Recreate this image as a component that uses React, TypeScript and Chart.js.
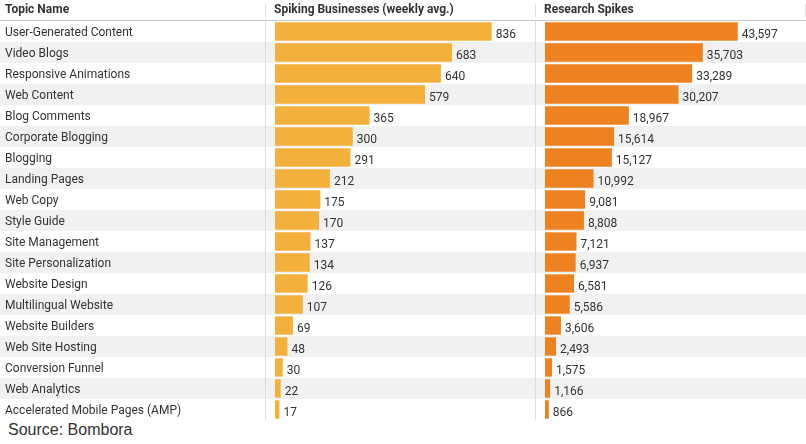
import React, { useEffect, useRef } from "react";
import { Chart, registerables } from "chart.js";

Chart.register(...registerables);

const topics = [
  "User-Generated Content",
  "Video Blogs",
  "Responsive Animations",
  "Web Content",
  "Blog Comments",
  "Corporate Blogging",
  "Blogging",
  "Landing Pages",
  "Web Copy",
  "Style Guide",
  "Site Management",
  "Site Personalization",
  "Website Design",
  "Multilingual Website",
  "Website Builders",
  "Web Site Hosting",
  "Conversion Funnel",
  "Web Analytics",
  "Accelerated Mobile Pages (AMP)",
];

const spikingBusinesses = [836, 683, 640, 579, 365, 300, 291, 212, 175, 170, 137, 134, 126, 107, 69, 48, 30, 22, 17];
const researchSpikes = [43597, 35703, 33289, 30207, 18967, 15614, 15127, 10992, 9081, 8808, 7121, 6937, 6581, 5586, 3606, 2493, 1575, 1166, 866];

const headers = ["Topic Name", "Spiking Businesses (weekly avg.)", "Research Spikes"];
const sourceText = "Source: Bombora";

const FONT = "Roboto, 'Noto Sans', sans-serif";
const TEXT = "#333333";
const STRIPE = "#f0f1f0";

const stripePlugin = {
  id: "stripes",
  beforeDraw(chart: any) {
    const { ctx, chartArea, width } = chart;
    const n = topics.length;
    const h = (chartArea.bottom - chartArea.top) / n;
    ctx.save();
    ctx.fillStyle = STRIPE;
    for (let i = 0; i < n; i++) {
      if (i % 2 === 1) {
        ctx.fillRect(0, chartArea.top + i * h, width, h);
      }
    }
    ctx.restore();
  },
};

const valueLabelPlugin = {
  id: "valueLabels",
  afterDatasetsDraw(chart: any) {
    const { ctx } = chart;
    const meta = chart.getDatasetMeta(0);
    const data = chart.data.datasets[0].data as number[];
    ctx.save();
    ctx.font = `12px ${FONT}`;
    ctx.fillStyle = TEXT;
    ctx.textAlign = "left";
    ctx.textBaseline = "middle";
    meta.data.forEach((bar: any, i: number) => {
      ctx.fillText(data[i].toLocaleString("en-US"), bar.x + 4, bar.y + 3);
    });
    ctx.restore();
  },
};

function makeConfig(values: number[], color: string, max: number, showLabels: boolean, padLeft: number): any {
  const yScale: any = {
    display: showLabels,
    grid: { display: false },
    border: { display: false },
    ticks: {
      crossAlign: "far",
      color: TEXT,
      font: { family: FONT, size: 12 },
      padding: 0,
      autoSkip: false,
      labelOffset: 1,
    },
  };
  if (showLabels) {
    yScale.afterFit = (scale: any) => {
      scale.width = 270;
      scale.paddingTop = 0;
      scale.paddingBottom = 0;
    };
  }
  return {
    type: "bar",
    data: {
      labels: topics,
      datasets: [
        {
          data: values,
          backgroundColor: color,
          borderWidth: 0,
          barPercentage: 0.875,
          categoryPercentage: 1,
        },
      ],
    },
    options: {
      indexAxis: "y",
      responsive: false,
      animation: false,
      layout: { padding: { top: 21, left: padLeft, right: 0, bottom: 0 } },
      plugins: { legend: { display: false }, tooltip: { enabled: false } },
      scales: {
        x: { display: false, min: 0, max },
        y: yScale,
      },
    },
    plugins: [stripePlugin, valueLabelPlugin],
  };
}

export default function App() {
  const ref1 = useRef<HTMLCanvasElement>(null);
  const ref2 = useRef<HTMLCanvasElement>(null);

  useEffect(() => {
    const c1 = new Chart(ref1.current!, makeConfig(spikingBusinesses, "#f3b13c", 1003, true, 5));
    const c2 = new Chart(ref2.current!, makeConfig(researchSpikes, "#ee8221", 59040, false, 10));
    return () => {
      c1.destroy();
      c2.destroy();
    };
  }, []);

  const headerStyle: React.CSSProperties = {
    position: "absolute",
    top: 2,
    fontFamily: FONT,
    fontSize: 12,
    fontWeight: 700,
    lineHeight: "14px",
    color: TEXT,
    whiteSpace: "nowrap",
  };
  const vline = (x: number, top: number, height: number): React.CSSProperties => ({
    position: "absolute",
    left: x,
    top,
    width: 1,
    height,
    background: "#dcdcdc",
  });

  return (
    <div style={{ position: "absolute", left: 0, top: 0, width: 806, height: 444, background: "#fff", overflow: "hidden" }}>
      <canvas ref={ref1} width={535} height={420} style={{ position: "absolute", left: 0, top: 0 }} />
      <canvas ref={ref2} width={271} height={420} style={{ position: "absolute", left: 535, top: 0 }} />
      <div style={{ ...headerStyle, left: 5 }}>{headers[0]}</div>
      <div style={{ ...headerStyle, left: 274 }}>{headers[1]}</div>
      <div style={{ ...headerStyle, left: 544 }}>{headers[2]}</div>
      <div style={{ position: "absolute", left: 0, top: 20, width: 806, height: 1, background: "#c8c8c8" }} />
      <div style={vline(265, 4, 13)} />
      <div style={vline(535, 4, 13)} />
      <div style={vline(805, 4, 13)} />
      <div style={vline(265, 21, 399)} />
      <div style={vline(535, 21, 399)} />
      <div
        style={{
          position: "absolute",
          left: 8,
          top: 421,
          fontFamily: "Arial, 'Liberation Sans', sans-serif",
          fontSize: 16,
          lineHeight: "18px",
          color: "#333",
          whiteSpace: "nowrap",
        }}
      >
        {sourceText}
      </div>
    </div>
  );
}
